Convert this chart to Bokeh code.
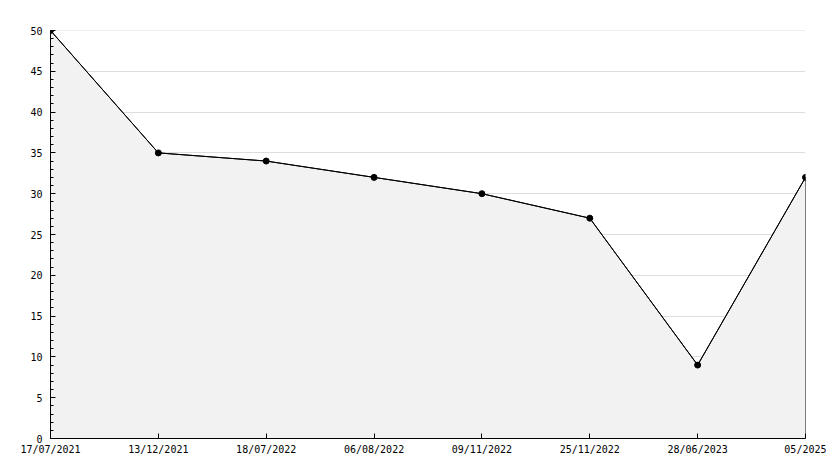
from bokeh.plotting import figure
from bokeh.models import Range1d, FixedTicker, SingleIntervalTicker, Span
from bokeh.embed import file_html
from bokeh.resources import INLINE

labels = ["17/07/2021", "13/12/2021", "18/07/2022", "06/08/2022",
          "09/11/2022", "25/11/2022", "28/06/2023", "05/2025"]
values = [50, 35, 34, 32, 30, 27, 9, 32]
xs = list(range(len(labels)))

FONT = "DejaVu Sans Mono"

p = figure(width=826, height=460, output_backend="svg", toolbar_location=None,
           x_range=Range1d(0, len(labels) - 1), y_range=Range1d(0, 50),
           min_border_left=50, min_border_right=21, min_border_top=30,
           min_border_bottom=22)
p.outline_line_color = None
p.background_fill_color = "white"

# top grid line at the range end
p.add_layout(Span(location=50, dimension="width", line_color="#dddddd",
                  line_width=1, level="underlay"))

# area
px = [xs[0]] + xs + [xs[-1]]
py = [0] + values + [0]
p.patch(px, py, fill_color="#f2f2f2", line_color="black", line_width=1)
p.line(xs, values, line_color="black", line_width=1)
p.scatter(xs, values, size=6, marker="circle", color="black")

p.xaxis.ticker = FixedTicker(ticks=xs)
p.xaxis.major_label_overrides = {i: l for i, l in zip(xs, labels)}
p.yaxis.ticker = SingleIntervalTicker(interval=5, num_minor_ticks=5)

for ax in (p.xaxis[0], p.yaxis[0]):
    ax.axis_line_color = "black"
    ax.major_tick_in = 5
    ax.major_tick_out = 0
    ax.major_tick_line_color = "black"
    ax.major_label_text_font = FONT
    ax.major_label_text_font_size = "10px"
    ax.major_label_text_color = "black"
p.yaxis.minor_tick_in = 3
p.yaxis.minor_tick_out = 0
p.yaxis.minor_tick_line_color = "black"
p.xaxis.minor_tick_line_color = None
p.yaxis.major_label_standoff = 8
p.xaxis.major_label_standoff = 5

p.xgrid.grid_line_color = None
p.ygrid.grid_line_color = "#dddddd"
p.ygrid.ticker = SingleIntervalTicker(interval=5)

open("out.html", "w").write(file_html(p, INLINE))
